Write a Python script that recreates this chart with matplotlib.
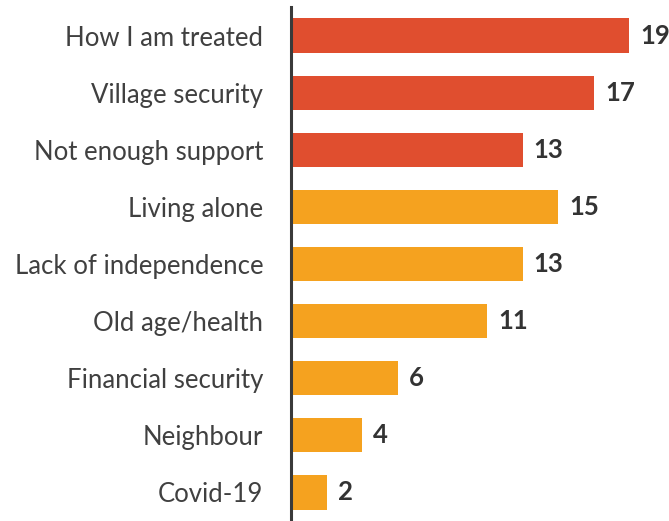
import matplotlib
matplotlib.use("Agg")
import matplotlib.pyplot as plt

categories = ["How I am treated", "Village security", "Not enough support",
              "Living alone", "Lack of independence", "Old age/health",
              "Financial security", "Neighbour", "Covid-19"]
values = [19, 17, 13, 15, 13, 11, 6, 4, 2]
groups = ["top", "top", "top", "other", "other", "other", "other", "other", "other"]

palette = {"top": "#E04E2F", "other": "#F5A21F"}
text_color = "#404040"

plt.rcParams["font.family"] = ["Lato", "DejaVu Sans"]

W, H = 669, 521
fig = plt.figure(figsize=(W / 100, H / 100), dpi=100)
left, right = 291 / W, 665 / W
bottom, top = 0.0, 1 - 7 / H
ax = fig.add_axes([left, bottom, right - left, top - bottom])

ypos = list(range(len(categories)))
colors = [palette[g] for g in groups]
ax.barh(ypos, values, height=0.6, color=colors, zorder=2)

ax.set_ylim(len(categories) - 0.5, -0.5)
ax.set_xlim(0, 21)

for y, v in zip(ypos, values):
    ax.annotate(str(v), xy=(v, y), xytext=(8, 0), textcoords="offset points",
                va="center", ha="left", fontsize=18.5, fontweight="bold",
                color="#333333", annotation_clip=False)

ax.set_yticks(ypos)
ax.set_yticklabels(categories, fontsize=18.5, color=text_color)
ax.tick_params(axis="y", length=0, pad=20)
ax.set_xticks([])

for s in ["top", "right", "bottom"]:
    ax.spines[s].set_visible(False)
ax.spines["left"].set_color("#3a3a3a")
ax.spines["left"].set_linewidth(2.2)
ax.spines["left"].set_zorder(3)

fig.savefig("out.png", dpi=100)
